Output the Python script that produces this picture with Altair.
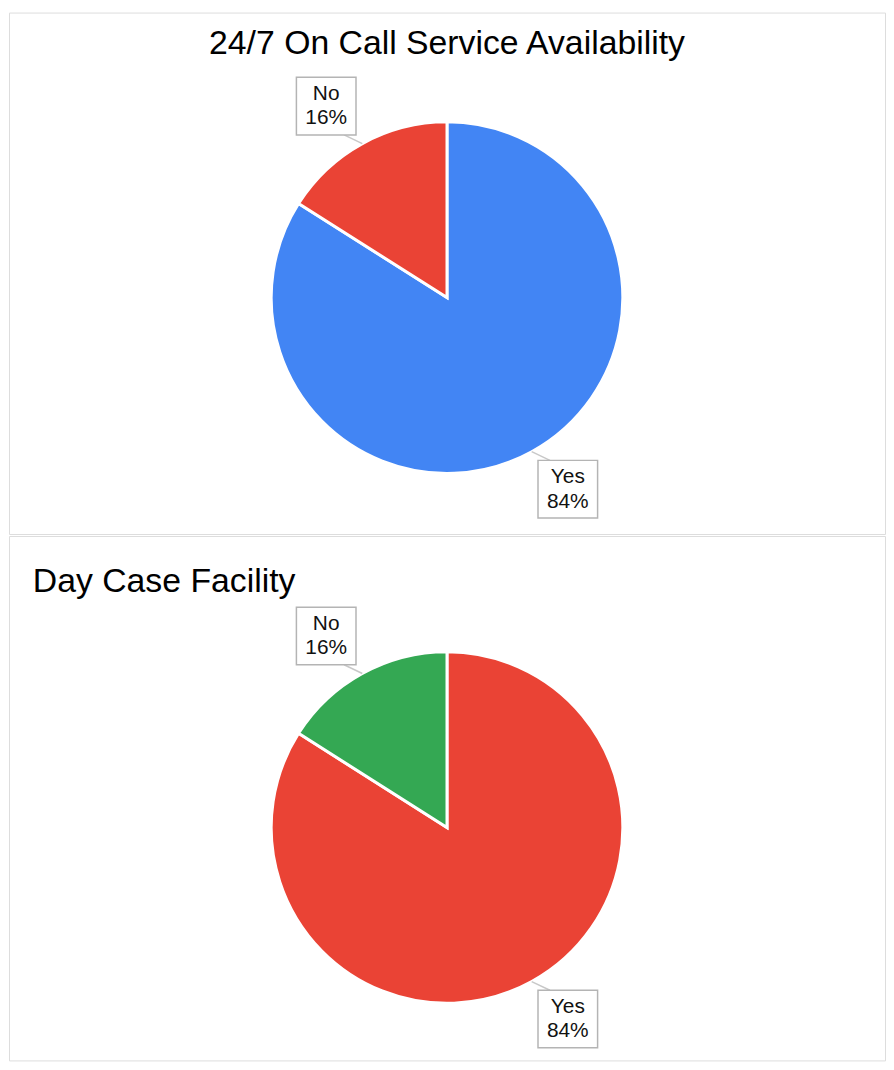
import altair as alt
import pandas as pd

categories = ["Yes", "No"]
order_idx = [0, 1]
oncall_values = [84, 16]
daycase_values = [84, 16]
oncall_colors = ["#4285F4", "#EA4335"]
daycase_colors = ["#EA4335", "#34A853"]
titles = ["24/7 On Call Service Availability", "Day Case Facility"]

W = 882
CX = 441
R = 177
LR = 228
FONT = "Liberation Sans"


def panel(values, colors, title, align, tx, ty, height, cy):
    df = pd.DataFrame({"answer": categories, "pct": values, "idx": order_idx})
    base = (
        alt.Chart(df)
        .transform_joinaggregate(total="sum(pct)")
        .transform_window(cum="sum(pct)", sort=[{"field": "idx"}])
        .transform_calculate(
            a0="(datum.cum - datum.pct) / datum.total * 2 * PI",
            a1="datum.cum / datum.total * 2 * PI",
        )
        .transform_calculate(mid="(datum.a0 + datum.a1) / 2")
        .transform_calculate(la="datum.mid - 0.06")
        .transform_calculate(
            lx=f"{CX} + {LR} * sin(datum.la)",
            ly=f"{cy} - {LR} * cos(datum.la)",
            ex=f"{CX} + {R} * sin(datum.mid)",
            ey=f"{cy} - {R} * cos(datum.mid)",
            lab="datum.answer + '\\n' + datum.pct + '%'",
        )
        .transform_calculate(
            bx0="datum.lx - 30",
            bx1="datum.lx + 30",
            by0="datum.ly - 29",
            by1="datum.ly + 29",
            tx="datum.lx - (sin(datum.mid) > 0 ? 18 : -18)",
            ty="datum.ly + (cos(datum.mid) > 0 ? 29 : -29)",
        )
    )
    arc = base.mark_arc(outerRadius=R, stroke="white", strokeWidth=3).encode(
        theta=alt.Theta("pct:Q", stack=True),
        order=alt.Order("idx:Q"),
        color=alt.Color(
            "answer:N",
            scale=alt.Scale(domain=categories, range=colors),
            legend=None,
        ),
        x=alt.value(CX),
        y=alt.value(cy),
    )
    rule = base.mark_rule(color="#c8c8c8", strokeWidth=1.5).encode(
        x=alt.X("ex:Q", scale=None, axis=None),
        y=alt.Y("ey:Q", scale=None, axis=None),
        x2="tx:Q",
        y2="ty:Q",
    )
    box = base.mark_rect(fill="white", stroke="#b4b4b4", strokeWidth=1.5).encode(
        x=alt.X("bx0:Q", scale=None, axis=None),
        x2="bx1:Q",
        y=alt.Y("by0:Q", scale=None, axis=None),
        y2="by1:Q",
    )
    text = base.mark_text(
        lineBreak="\n", fontSize=21, font=FONT, baseline="middle",
        align="center", lineHeight=25, color="#111111", dy=-12.5,
    ).encode(
        x=alt.X("lx:Q", scale=None, axis=None),
        y=alt.Y("ly:Q", scale=None, axis=None),
        text="lab:N",
    )
    head = alt.Chart(pd.DataFrame({"t": [title]})).mark_text(
        fontSize=34, font=FONT, align=align, baseline="middle", color="black",
    ).encode(
        x=alt.value(tx),
        y=alt.value(ty),
        text="t:N",
    )
    return alt.layer(arc, rule, box, text, head).properties(
        width=W, height=height
    )


top = panel(oncall_values, oncall_colors, titles[0], "center", CX, 32, 525, 287)
bottom = panel(daycase_values, daycase_colors, titles[1], "left", 24, 46, 528, 293.5)

chart = (
    alt.vconcat(top, bottom, spacing=0)
    .resolve_scale(color="independent")
    .configure_view(stroke="#d0d0d0", strokeWidth=2)
    .configure(padding=0)
)

chart.save("out.html", embed_options={"renderer": "svg", "actions": False})
